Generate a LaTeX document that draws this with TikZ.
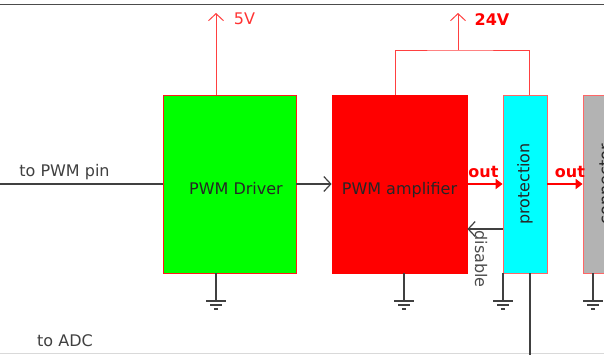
\documentclass[tikz,border=0pt]{standalone}
\usepackage{fontspec}
\setmainfont{DejaVu Sans}
\usetikzlibrary{arrows.meta, positioning}
\definecolor{drvgreen}{RGB}{0,255,0}
\definecolor{protcyan}{RGB}{0,255,255}
\definecolor{congray}{RGB}{179,179,179}

\tikzset{
  gnd/.pic={\draw[line width=1.2pt, black!75] (-10,0) -- (10,0) (-6,4) -- (6,4) (-2,8) -- (2,8);}
}

\begin{document}
\begin{tikzpicture}[x=1pt, y=-1pt,
  block/.style={rectangle, draw=red!60, line width=0.8pt, minimum height=178pt, inner sep=0pt, font=\fontsize{16}{19}\selectfont, text=black!85},
  lbl/.style={inner sep=0pt, font=\fontsize{16}{19}\selectfont},
  wire/.style={draw=black!75, line width=1.2pt},
  supply/.style={draw=red!75, line width=1pt},
  barb/.style={-{Straight Barb[length=7pt,width=15pt]}},
  outarrow/.style={draw=red, line width=1.8pt, -{Triangle[length=7pt,width=10pt]}},
]
\useasboundingbox (0,0) rectangle (604,354);
\clip (0,0) rectangle (604,354);

% frame
\draw[black!70, line width=1.5pt] (0,4.5) -- (604,4.5);
\draw[black!15, line width=0.8pt] (0,353.5) -- (604,353.5);

% blocks
\node[block, fill=drvgreen, draw=red!90, minimum width=133pt, text height=20pt, text depth=0pt] (drv) at (229.5,184) {\hspace{13pt}PWM Driver};
\node[block, fill=red, draw=red, minimum width=135pt, text height=20pt, text depth=0pt] (amp) at (399.5,184) {PWM amplifier};
\node[block, fill=protcyan, minimum width=44pt] (prot) at (525,184) {\rotatebox{90}{protection}\hspace{2pt}};
\node[block, fill=congray, minimum width=44pt] (conn) at (605,184) {\rotatebox{90}{connector}};

% supplies
\coordinate (v5) at (216,13);
\coordinate (v24) at (458,13);
\coordinate (tap) at (458,50);
\draw[supply, barb] ([xshift=-13.5pt]drv.north) -- (v5);
\node[lbl, text=red!80] (v5lbl) at (244.5,19) {5V};
\draw[supply] ([xshift=-4.5pt]amp.north) |- (tap) -| ([xshift=4pt]prot.north);
\draw[supply, barb] (tap) -- (v24);
\node[lbl, text=red, font=\fontsize{16}{19}\selectfont\bfseries] (v24lbl) at (492,20) {24V};

% signals
\coordinate (pwmin) at (0,184);
\draw[wire] (pwmin) -- (drv.west);
\node[lbl, text=black!75, anchor=base] (pwmlbl) at (64.5,176) {to PWM pin};
\draw[wire, barb] (drv.east) -- (amp.west);
\draw[outarrow] (amp.east) -- (prot.west);
\node[lbl, text=red, font=\fontsize{16}{19}\selectfont\bfseries, anchor=base] (out1) at (483.5,177) {out};
\draw[outarrow] (prot.east) -- (conn.west);
\node[lbl, text=red, font=\fontsize{16}{19}\selectfont\bfseries, anchor=base] (out2) at (570,177) {out};
\draw[wire, barb] ([yshift=-45pt]prot.west) -- ([yshift=-45pt]amp.east);
\node[lbl, text=black!70, rotate=-90] (dislbl) at (481,259) {disable};

% grounds
\foreach \gx/\gname/\blk in {216/g1/drv, 404/g2/amp, 503/g3/prot, 593/g4/conn} {
  \coordinate (\gname) at (\gx,301);
  \draw[wire] (\blk.south -| \gname) -- (\gname);
  \pic at (\gname) {gnd};
}

% ADC tap
\coordinate (adc) at (530,360);
\draw[wire] (prot.south -| adc) -- (adc);
\node[lbl, text=black!75] (adclbl) at (65,341) {to ADC};

\end{tikzpicture}
\end{document}
